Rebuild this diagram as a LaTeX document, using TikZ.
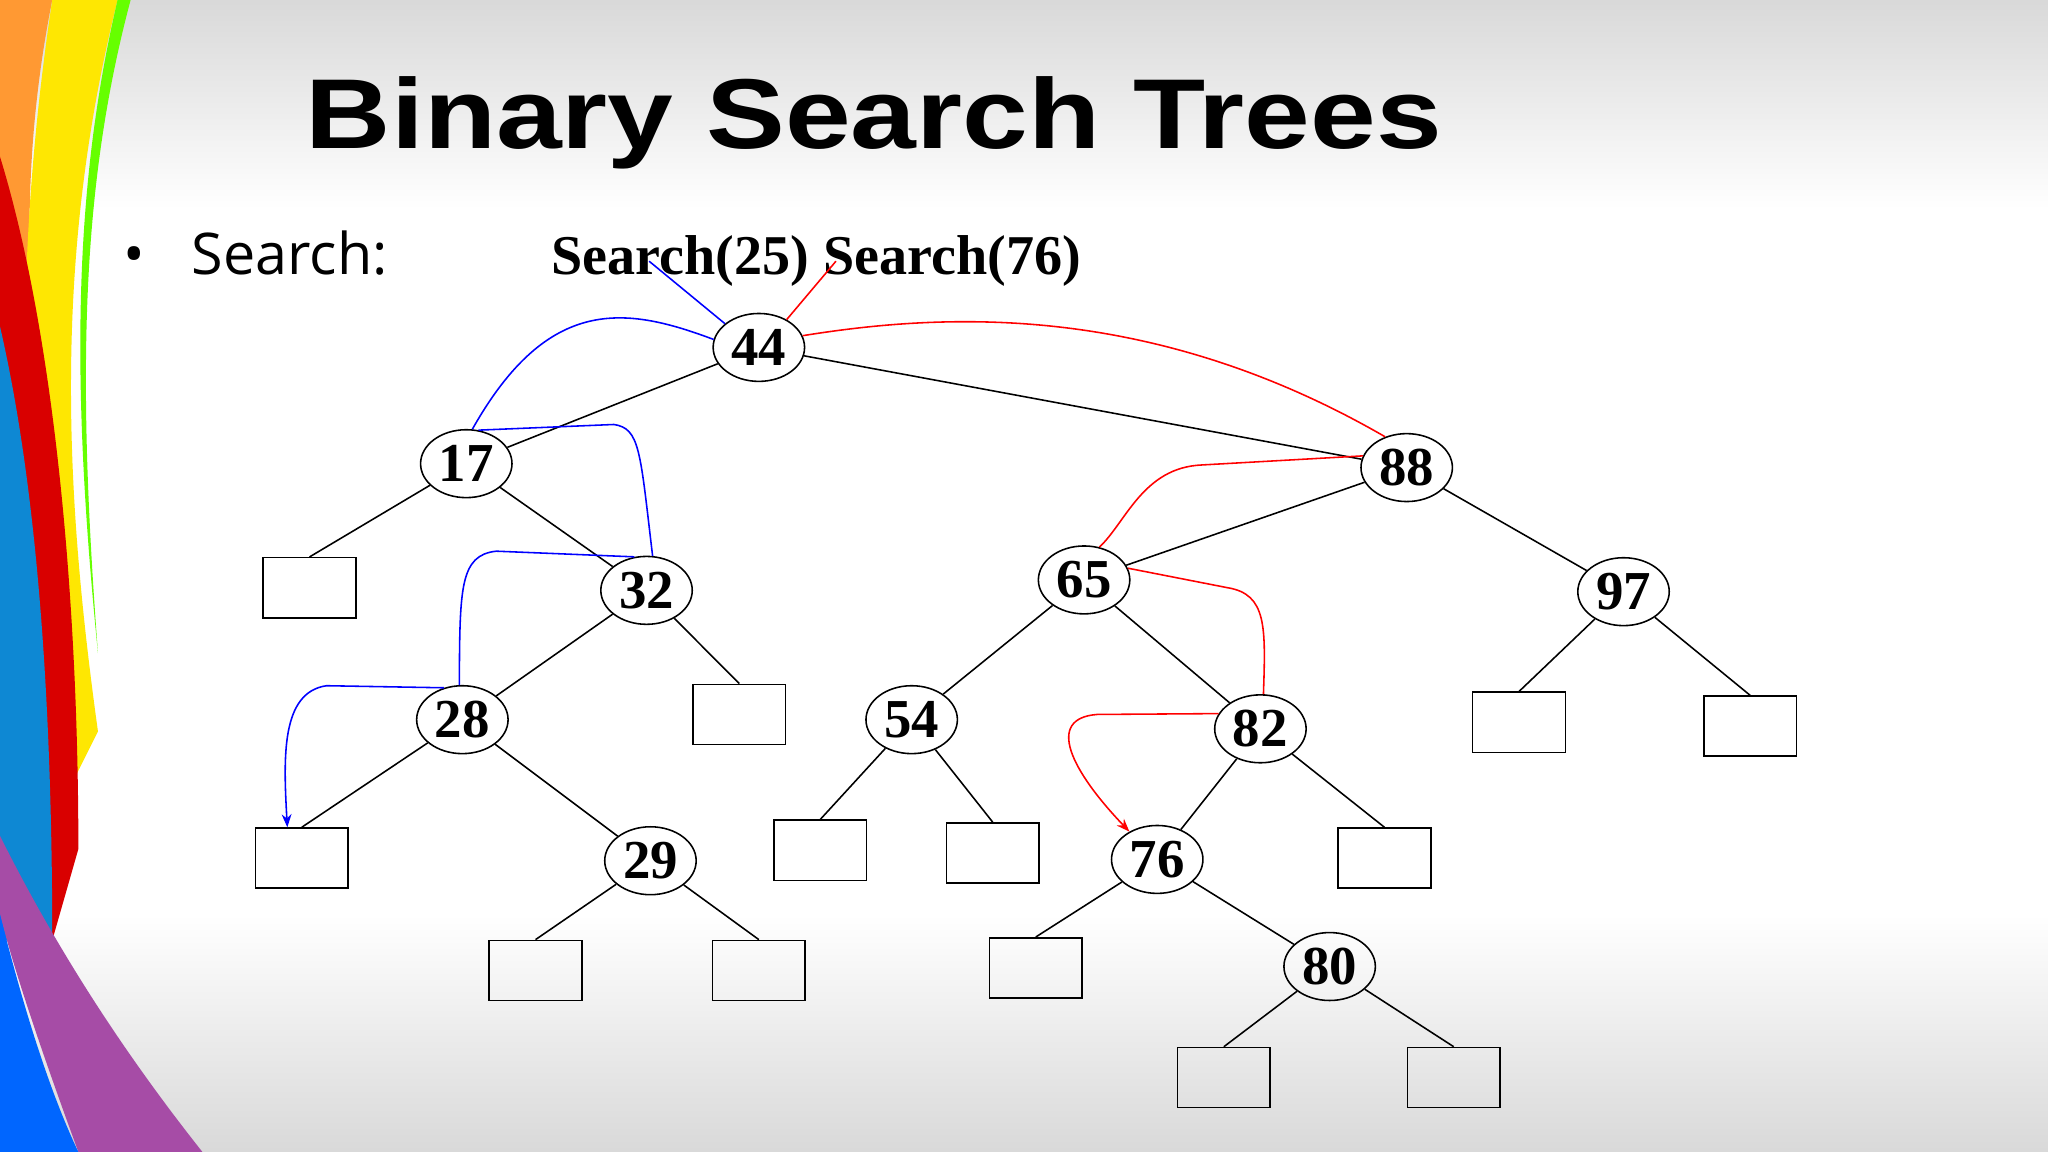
\documentclass[tikz,border=0pt]{standalone}
\usepackage{fontspec}
\setmainfont{Liberation Serif}
\newfontfamily\titlefont{Liberation Sans}
\newfontfamily\bodyfont{Open Sans}
\usetikzlibrary{shapes.geometric,arrows.meta}
\begin{document}
\begin{tikzpicture}[x=1pt,y=-1pt,
  num/.style={ellipse,draw,line width=1.2pt,minimum width=70pt,minimum height=52pt,inner sep=0pt,font=\fontsize{42}{42}\selectfont\bfseries},
  leaf/.style={rectangle,draw,line width=1.2pt,minimum width=71pt,minimum height=46pt,inner sep=0pt},
  edge/.style={line width=1.2pt},
  bpath/.style={blue,line width=1.2pt},
  rpath/.style={red,line width=1.2pt}]
\useasboundingbox (0,0) rectangle (1568,882);
\shade[top color=black!15,bottom color=white] (0,0) rectangle (1568,160);
\fill[white] (0,160) rectangle (1568,700);
\shade[top color=white,bottom color=black!15] (0,700) rectangle (1568,882);
% left stripes
\fill[orange!80] (0,0) -- (40,0) .. controls (10,150) and (20,300) .. (60,500) -- (0,500) -- cycle;
\fill[yellow!90!orange] (40,0) -- (90,0) .. controls (40,200) and (50,380) .. (75,560) -- (55,600) .. controls (10,400) and (10,200) .. (40,0) -- cycle;
\fill[green!60!yellow] (90,0) -- (100,0) .. controls (60,150) and (60,300) .. (75,500) .. controls (55,300) and (55,150) .. (90,0) -- cycle;
\fill[red!85!black] (0,120) .. controls (40,250) and (60,450) .. (60,650) -- (40,720) .. controls (30,500) and (20,350) .. (0,260) -- cycle;
\fill[cyan!70!blue] (0,250) .. controls (30,380) and (40,550) .. (40,720) -- (0,720) -- cycle;
\fill[violet!70] (0,640) .. controls (40,720) and (90,800) .. (155,882) -- (60,882) .. controls (30,800) and (10,740) .. (0,700) -- cycle;
\fill[blue!60!cyan] (0,700) .. controls (20,780) and (40,840) .. (60,882) -- (0,882) -- cycle;
% title
\node[font=\titlefont\fontsize{76}{76}\selectfont\bfseries,anchor=base west,inner sep=0pt,xscale=1.19] (title) at (234,114) {Binary Search Trees};
\node[font=\bodyfont\fontsize{44}{44}\selectfont,anchor=base west,inner sep=0pt] (bul) at (94,210) {\textbullet\hspace{36pt}Search:};
\node[font=\fontsize{43}{43}\selectfont\bfseries,inner sep=0pt] (s) at (625,200) {Search(25) Search(76)};
\coordinate (s25) at (497,200);
\coordinate (s76) at (640,200);
% nodes
\node[num] (n44) at (581,266) {44};
\node[num] (n17) at (357,355) {17};
\node[num] (n88) at (1077,358) {88};
\node[num] (n32) at (495,452) {32};
\node[num] (n65) at (830,444) {65};
\node[num] (n97) at (1243,453) {97};
\node[num] (n28) at (354,551) {28};
\node[num] (n54) at (698,551) {54};
\node[num] (n82) at (965,558) {82};
\node[num] (n29) at (498,659) {29};
\node[num] (n76) at (886,658) {76};
\node[num] (n80) at (1018,740) {80};
\node[leaf] (b17) at (237,450) {};
\node[leaf] (b32) at (566,547) {};
\node[leaf] (b28) at (231,657) {};
\node[leaf] (b29l) at (410,743) {};
\node[leaf] (b29r) at (581,743) {};
\node[leaf] (b54l) at (628,651) {};
\node[leaf] (b54r) at (760,653) {};
\node[leaf] (b76) at (793,741) {};
\node[leaf] (b82) at (1060,657) {};
\node[leaf] (b80l) at (937,825) {};
\node[leaf] (b80r) at (1113,825) {};
\node[leaf] (b97l) at (1163,553) {};
\node[leaf] (b97r) at (1340,556) {};
% edges
\draw[edge] (n44) -- (n17);
\draw[edge] (n44) -- (n88);
\draw[edge] (n17) -- (b17.north);
\draw[edge] (n17) -- (n32);
\draw[edge] (n32) -- (n28);
\draw[edge] (n32) -- (b32.north);
\draw[edge] (n28) -- (b28.north);
\draw[edge] (n28) -- (n29);
\draw[edge] (n29) -- (b29l.north);
\draw[edge] (n29) -- (b29r.north);
\draw[edge] (n88) -- (n65);
\draw[edge] (n88) -- (n97);
\draw[edge] (n97) -- (b97l.north);
\draw[edge] (n97) -- (b97r.north);
\draw[edge] (n65) -- (n54);
\draw[edge] (n65) -- (n82);
\draw[edge] (n54) -- (b54l.north);
\draw[edge] (n54) -- (b54r.north);
\draw[edge] (n82) -- (n76);
\draw[edge] (n82) -- (b82.north);
\draw[edge] (n76) -- (b76.north);
\draw[edge] (n76) -- (n80);
\draw[edge] (n80) -- (b80l.north);
\draw[edge] (n80) -- (b80r.north);
% blue search path
\draw[bpath] (s25) -- (n44.145);
\draw[bpath] (n44.170) .. controls (480,235) and (420,225) .. (n17.80);
\draw[bpath] (n17.70) -- (470,325) .. controls (490,328) and (490,345) .. (n32.80);
\draw[bpath] (n32.110) -- (380,422) .. controls (352,425) and (352,450) .. (n28.95);
\draw[bpath,-{Stealth[length=10pt]}] (n28.120) -- (250,525) .. controls (215,530) and (217,580) .. (b28.115);
% red search path
\draw[rpath] (s76) -- (n44.45);
\draw[rpath] (n44.15) .. controls (720,240) and (880,230) .. (n88.125);
\draw[rpath] (n88.165) -- (920,356) .. controls (875,358) and (862,400) .. (n65.65);
\draw[rpath] (n65.15) -- (940,450) .. controls (970,455) and (969,480) .. (n82.85);
\draw[rpath,-{Stealth[length=10pt]}] (n82.160) -- (840,547) .. controls (800,550) and (820,590) .. (n76.135);
\end{tikzpicture}
\end{document}
